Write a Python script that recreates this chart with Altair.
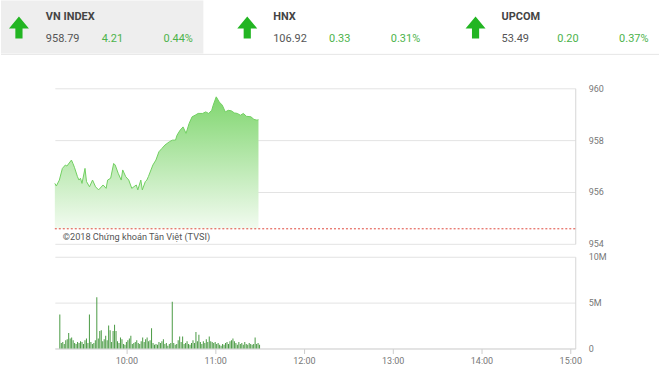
import altair as alt
import pandas as pd

# ---------------- data ----------------
price_times = ["09:15", "09:16", "09:18", "09:20", "09:22", "09:23", "09:26", "09:27", "09:28", "09:30",
               "09:31", "09:32", "09:33", "09:35", "09:36", "09:38", "09:40", "09:42", "09:44", "09:47",
               "09:49", "09:50", "09:52", "09:54", "09:55", "09:57", "09:59", "10:00", "10:02", "10:04",
               "10:06", "10:09", "10:10", "10:12", "10:13", "10:15", "10:16", "10:17", "10:20", "10:22",
               "10:24", "10:26", "10:28", "10:31", "10:33", "10:35", "10:36", "10:38", "10:40", "10:42",
               "10:44", "10:46", "10:48", "10:50", "10:53", "10:55", "10:57", "10:59", "11:00", "11:02",
               "11:04", "11:06", "11:08", "11:10", "11:12", "11:14", "11:16", "11:18", "11:20", "11:22",
               "11:25", "11:27", "11:29", "11:30"]
price_values = [956.33, 956.23, 956.46, 956.91, 957.04, 957.00, 957.23, 957.10, 956.95, 956.59,
                956.46, 956.53, 956.33, 956.91, 956.40, 956.20, 956.46, 956.20, 956.08, 956.27,
                956.14, 956.46, 956.53, 957.10, 957.04, 956.72, 956.46, 956.85, 956.59, 956.46,
                956.14, 956.27, 956.08, 956.46, 956.08, 956.40, 956.46, 956.59, 957.04, 957.23,
                957.55, 957.68, 957.81, 957.94, 958.00, 958.00, 958.19, 958.38, 958.51, 958.26,
                958.64, 958.90, 958.96, 959.03, 959.03, 959.09, 959.03, 959.15, 959.35, 959.67,
                959.47, 959.35, 959.09, 959.15, 959.13, 959.05, 959.03, 958.96, 959.03, 958.92,
                958.90, 958.80, 958.77, 958.79]
ref_close = 954.58

vol_start = "2018-01-01 09:15"
volumes_m = [3.7, 0.6, 0.7, 0.5, 0.9, 1.0, 1.7, 1.1, 1.2, 0.9,
             0.6, 0.5, 0.7, 0.6, 0.8, 0.7, 0.5, 0.9, 1.1, 0.6,
             3.7, 0.7, 0.5, 0.6, 0.9, 5.6, 1.1, 1.9, 2.0, 0.8,
             1.0, 1.4, 0.9, 2.5, 2.0, 0.7, 1.9, 2.6, 1.9, 0.8,
             0.6, 1.2, 1.0, 0.5, 0.4, 0.7, 0.9, 1.1, 1.4, 0.5,
             0.6, 0.7, 0.9, 0.6, 0.5, 0.8, 1.2, 0.7, 1.0, 1.2,
             0.8, 0.9, 2.2, 0.6, 0.4, 0.5, 0.4, 0.7, 0.6, 0.8,
             1.0, 0.5, 0.6, 0.3, 0.5, 0.6, 5.1, 0.6, 0.4, 0.5,
             0.9, 1.3, 0.7, 1.3, 0.5, 0.6, 0.8, 0.5, 0.4, 0.6,
             0.9, 0.6, 1.8, 0.8, 1.5, 0.7, 0.5, 0.8, 0.6, 1.0,
             0.7, 1.3, 0.8, 0.7, 0.6, 0.7, 0.5, 0.6, 0.4, 0.3,
             0.5, 0.4, 0.6, 0.7, 0.5, 0.8, 0.9, 1.1, 0.8, 0.6,
             0.4, 0.7, 0.5, 0.6, 0.4, 0.7, 0.5, 0.4, 0.6, 0.5,
             0.4, 0.5, 1.2, 0.5, 0.6, 0.4]

index_names = ["VN INDEX", "HNX", "UPCOM"]
index_last = ["958.79", "106.92", "53.49"]
index_change = ["4.21", "0.33", "0.20"]
index_pct = ["0.44%", "0.31%", "0.37%"]
copyright_text = "©2018 Chứng khoán Tân Việt (TVSI)"

# ---------------- layout (pixels, relative to plot origin) ----------------
W, H1, H2 = 522, 156, 92
OX, OY = 54, 88
block_x = [45, 273, 502]
arrow_x = [18, 247, 476]
col_dx = [0, 56, 118]

price_df = pd.DataFrame({"t": pd.to_datetime(["2018-01-01 " + s for s in price_times]),
                         "v": price_values})
vol_df = pd.DataFrame({"t": pd.date_range(vol_start, periods=len(volumes_m), freq="min"),
                       "vol": volumes_m})

x_domain = [alt.DateTime(year=2018, month=1, date=1, hours=9, minutes=15),
            alt.DateTime(year=2018, month=1, date=1, hours=15, minutes=0)]
xscale = alt.Scale(domain=x_domain)

FONT = "Roboto"
GREEN_TXT = "#4cb34a"
ARROW = "M0,-1.1L1,0.1L0.36,0.1L0.36,1.1L-0.36,1.1L-0.36,0.1L-1,0.1Z"

one = pd.DataFrame({"k": [0]})

# ---------------- upper panel ----------------
gradient = alt.Gradient(
    gradient="linear",
    stops=[alt.GradientStop(color="#80d66f", offset=0),
           alt.GradientStop(color="#f2fbf0", offset=1)],
    x1=1, x2=1, y1=0, y2=1,
)

yaxis_up = alt.Axis(orient="right", values=[954, 956, 958, 960], format="d", grid=True,
                    gridColor="#e3e3e3", domain=True, domainColor="#d6d6d6", ticks=False,
                    labelColor="#777", labelFontSize=9, labelPadding=13, title=None)

area = alt.Chart(price_df).mark_area(fill=gradient, line=False).encode(
    x=alt.X("t:T", scale=xscale, axis=None),
    y=alt.Y("v:Q", scale=alt.Scale(domain=[954, 960], nice=False, zero=False), axis=yaxis_up),
    y2=alt.datum(ref_close),
)
line = alt.Chart(price_df).mark_line(color="#70cf60", strokeWidth=1).encode(
    x=alt.X("t:T", scale=xscale, axis=None),
    y=alt.Y("v:Q"),
)
refline = alt.Chart(pd.DataFrame({"v": [ref_close]})).mark_rule(
    color="#e0483c", strokeDash=[2, 2], strokeWidth=1).encode(y="v:Q")

copyright = alt.Chart(pd.DataFrame({"s": [copyright_text]})).mark_text(
    align="left", baseline="middle", font=FONT, fontSize=9.2, color="#555").encode(
    text="s:N", x=alt.value(62 - OX), y=alt.value(237 - OY))

# header
header_layers = [
    alt.Chart(one).mark_rect(color="#eeeeee").encode(
        x=alt.value(-OX), x2=alt.value(203 - OX), y=alt.value(-OY), y2=alt.value(53 - OY)),
    alt.Chart(one).mark_rule(color="#e6e6e6", strokeWidth=1).encode(
        x=alt.value(-OX), x2=alt.value(660 - OX), y=alt.value(54 - OY)),
]
for i in range(3):
    header_layers.append(
        alt.Chart(one).mark_point(shape=ARROW, filled=True, size=400, color="#22b522", opacity=1).encode(
            x=alt.value(arrow_x[i] - OX), y=alt.value(27 - OY)))
    header_layers.append(
        alt.Chart(pd.DataFrame({"s": [index_names[i]]})).mark_text(
            align="left", baseline="middle", font=FONT, fontSize=11, fontWeight="bold", color="#444").encode(
            text="s:N", x=alt.value(block_x[i] - OX), y=alt.value(17 - OY)))
    vals = [index_last[i], index_change[i], index_pct[i]]
    cols = ["#555", GREEN_TXT, GREEN_TXT]
    for j in range(3):
        header_layers.append(
            alt.Chart(pd.DataFrame({"s": [vals[j]]})).mark_text(
                align="left", baseline="middle", font=FONT, fontSize=11, color=cols[j]).encode(
                text="s:N", x=alt.value(block_x[i] + col_dx[j] - OX), y=alt.value(39 - OY)))

upper = alt.layer(area, line, refline, copyright, *header_layers).properties(width=W, height=H1)

# ---------------- lower panel ----------------
hours = [alt.DateTime(year=2018, month=1, date=1, hours=h, minutes=0) for h in range(10, 16)]
bars = alt.Chart(vol_df).mark_bar(size=1, color="#4a9a44").encode(
    x=alt.X("t:T", scale=xscale,
            axis=alt.Axis(values=hours, format="%H:%M", grid=False, domain=True, domainColor="#d6d6d6",
                          ticks=True, tickColor="#cccccc", tickSize=5, labelColor="#777",
                          labelFontSize=9, labelPadding=3, labelFlush=False, title=None)),
    y=alt.Y("vol:Q", scale=alt.Scale(domain=[0, 10], nice=False),
            axis=alt.Axis(orient="right", values=[0, 5, 10], grid=True, gridColor="#e3e3e3",
                          domain=True, domainColor="#d6d6d6", ticks=False, labelColor="#777",
                          labelFontSize=9, labelPadding=13, title=None,
                          labelExpr="datum.value == 0 ? '0' : datum.value + 'M'")),
)
lower = bars.properties(width=W, height=H2)

chart = alt.vconcat(upper, lower, spacing=13, bounds="flush").configure(
    padding=0, background="white"
).configure_view(stroke=None).configure_axis(labelFont=FONT)

chart.save("out.html", embed_options={"renderer": "svg", "actions": False})
